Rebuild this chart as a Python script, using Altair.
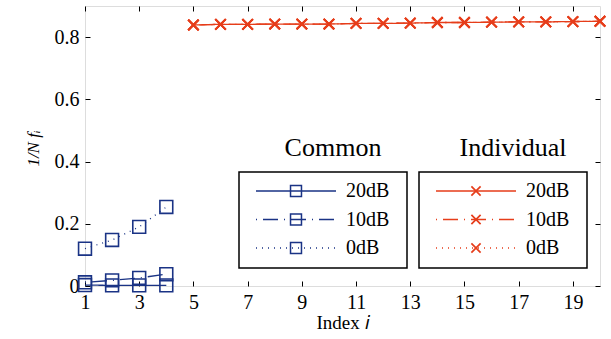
import altair as alt
import pandas as pd

# ---- data ----
x_common = [1, 2, 3, 4]
common_20 = [0.003, 0.002, 0.002, 0.002]
common_10 = [0.012, 0.018, 0.026, 0.038]
common_0 = [0.120, 0.148, 0.190, 0.254]

x_indiv = list(range(5, 21))
indiv_20 = [0.839, 0.841, 0.841, 0.842, 0.842, 0.842, 0.844, 0.844,
            0.845, 0.847, 0.847, 0.848, 0.849, 0.849, 0.850, 0.851]
indiv_10 = [0.839, 0.841, 0.841, 0.842, 0.842, 0.842, 0.844, 0.844,
            0.845, 0.847, 0.847, 0.848, 0.849, 0.849, 0.850, 0.851]
indiv_0 = [0.839, 0.841, 0.841, 0.842, 0.842, 0.842, 0.844, 0.844,
           0.845, 0.847, 0.847, 0.848, 0.849, 0.849, 0.850, 0.851]

groups = ["Common", "Individual"]
snrs = ["20dB", "10dB", "0dB"]
x_ticks = [1, 3, 5, 7, 9, 11, 13, 15, 17, 19]
y_ticks = [0, 0.2, 0.4, 0.6, 0.8]

# ---- styling ----
FONT = "'Liberation Serif', 'Times New Roman', Times, serif"
BLUE = "#1a3385"
RED = "#e63d1a"
W, H = 515, 280

rows = []
for snr, vals in zip(snrs, [common_20, common_10, common_0]):
    for x, y in zip(x_common, vals):
        rows.append({"x": x, "y": y, "group": "Common", "snr": snr, "series": "Common " + snr})
for snr, vals in zip(snrs, [indiv_20, indiv_10, indiv_0]):
    for x, y in zip(x_indiv, vals):
        rows.append({"x": x, "y": y, "group": "Individual", "snr": snr, "series": "Individual " + snr})
df = pd.DataFrame(rows)

color_scale = alt.Scale(domain=groups, range=[BLUE, RED])
dash_scale = alt.Scale(domain=snrs, range=[[1, 0], [1, 6, 15, 6], [1, 5]])
xs = alt.Scale(domain=[1, 20], nice=False, zero=False)
ys = alt.Scale(domain=[0, 0.9], nice=False, zero=False)

axis_common = dict(domain=False, grid=False, tickColor="black", tickWidth=1, tickSize=5,
                   offset=-5, labelFont=FONT, labelFontSize=20, labelColor="black",
                   labelFlush=False, labelOverlap=False, titleFont=FONT, titleColor="black",
                   titleFontWeight="normal")

x_axis = alt.Axis(orient="bottom", values=x_ticks, labelPadding=6, title="Index 𝑖",
                  titleFontSize=19, titleY=47, titleBaseline="alphabetic", **axis_common)
y_axis = alt.Axis(orient="left", values=y_ticks, format="~g", labelPadding=6,
                  title="1/N fᵢ", titleFontSize=17, titleFontStyle="italic", titleAngle=-90,
                  titleX=-57, titleY=142, titleAlign="center", titleBaseline="middle",
                  **axis_common)
x_axis_top = alt.Axis(orient="top", values=x_ticks, labels=False, title=None, **axis_common)
y_axis_right = alt.Axis(orient="right", values=y_ticks, labels=False, title=None, **axis_common)

lines = alt.Chart(df).mark_line(strokeWidth=1.3).encode(
    x=alt.X("x:Q", scale=xs, axis=x_axis),
    y=alt.Y("y:Q", scale=ys, axis=y_axis),
    color=alt.Color("group:N", scale=color_scale, legend=None),
    strokeDash=alt.StrokeDash("snr:N", scale=dash_scale, legend=None),
    detail="series:N",
)

frame_ticks = alt.Chart(df).mark_point(opacity=0).encode(
    x=alt.X("x:Q", scale=xs, axis=x_axis_top),
    y=alt.Y("y:Q", scale=ys, axis=y_axis_right),
)

squares = alt.Chart(df).transform_filter(alt.datum.group == "Common").mark_point(
    shape="square", filled=False, size=165, strokeWidth=1.6, opacity=1
).encode(
    x=alt.X("x:Q", scale=xs, axis=None),
    y=alt.Y("y:Q", scale=ys, axis=None),
    color=alt.Color("group:N", scale=color_scale, legend=None),
)

CROSS = "M-1,-1L1,1M-1,1L1,-1"
crosses = alt.Chart(df).transform_filter(alt.datum.group == "Individual").mark_point(
    shape=CROSS, filled=False, size=110, strokeWidth=1.9, opacity=1
).encode(
    x=alt.X("x:Q", scale=xs, axis=None),
    y=alt.Y("y:Q", scale=ys, axis=None),
    color=alt.Color("group:N", scale=color_scale, legend=None),
)

# ---- custom legend (plot-local pixel positions) ----
base = {"Common": 154, "Individual": 334}
leg_rows = []
for g in groups:
    for i, s in enumerate(snrs):
        b = base[g]
        leg_rows.append({"group": g, "snr": s, "label": s,
                         "x0": b + 17, "x1": b + 97, "xm": b + 57, "xl": b + 107,
                         "y": 185 + i * 28.5})
leg = pd.DataFrame(leg_rows)
box = pd.DataFrame([{"group": g, "x0": base[g], "x1": base[g] + 168, "y0": 166, "y1": 262,
                     "xt": base[g] + 94, "yt": 150} for g in groups])

px = lambda f: alt.X(f, scale=None, axis=None)
py = lambda f: alt.Y(f, scale=None, axis=None)

boxes = alt.Chart(box).mark_rect(fill="white", stroke="black", strokeWidth=1.5).encode(
    x=px("x0:Q"), x2="x1:Q", y=py("y0:Q"), y2="y1:Q")
box_titles = alt.Chart(box).mark_text(font=FONT, fontSize=26, color="black",
                                      align="center", baseline="alphabetic").encode(
    x=px("xt:Q"), y=py("yt:Q"), text="group:N")
leg_lines = alt.Chart(leg).mark_rule(strokeWidth=1.3).encode(
    x=px("x0:Q"), x2="x1:Q", y=py("y:Q"),
    color=alt.Color("group:N", scale=color_scale, legend=None),
    strokeDash=alt.StrokeDash("snr:N", scale=dash_scale, legend=None))
leg_sq = alt.Chart(leg).transform_filter(alt.datum.group == "Common").mark_point(
    shape="square", filled=False, size=120, strokeWidth=1.5, opacity=1).encode(
    x=px("xm:Q"), y=py("y:Q"), color=alt.Color("group:N", scale=color_scale, legend=None))
leg_cr = alt.Chart(leg).transform_filter(alt.datum.group == "Individual").mark_point(
    shape=CROSS, filled=False, size=85, strokeWidth=1.7, opacity=1).encode(
    x=px("xm:Q"), y=py("y:Q"), color=alt.Color("group:N", scale=color_scale, legend=None))
leg_text = alt.Chart(leg).mark_text(font=FONT, fontSize=20, color="black",
                                    align="left", baseline="middle").encode(
    x=px("xl:Q"), y=py("y:Q"), text="label:N")

chart = alt.layer(
    lines, frame_ticks, squares, crosses,
    boxes, box_titles, leg_lines, leg_sq, leg_cr, leg_text
).resolve_scale(x="independent", y="independent").properties(
    width=W, height=H,
    autosize=alt.AutoSizeParams(type="none"),
    padding={"left": 85, "top": 6, "right": 11, "bottom": 53},
).configure_view(stroke="black", strokeWidth=2).configure(background="white")

chart.save("out.html", embed_options={"renderer": "svg", "actions": False})
